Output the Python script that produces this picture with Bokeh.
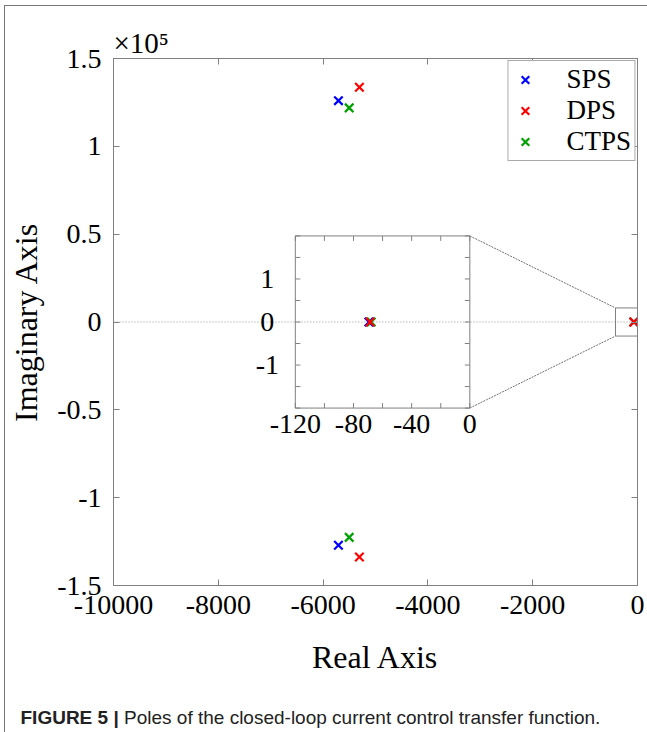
from bokeh.plotting import figure
from bokeh.layouts import column
from bokeh.models import (Range1d, LinearAxis, FixedTicker, Span, LabelSet, Title, Div,
                          Legend, LegendItem, ColumnDataSource)
from bokeh.core.properties import value
from bokeh.embed import file_html
from bokeh.resources import INLINE

# ---------------- data ----------------
series_names = ["SPS", "DPS", "CTPS"]
series_colors = ["#0000ff", "#ff0000", "#00a000"]

sps_real = [-5707, -5707, -69.4]
sps_imag = [126000, -127100, 0]
dps_real = [-5307, -5307, -68.6]
dps_imag = [133600, -133800, 0]
ctps_real = [-5502, -5502, -67.8]
ctps_imag = [121900, -122600, 0]

x_ticks = [-10000, -8000, -6000, -4000, -2000, 0]
x_tick_labels = ["-10000", "-8000", "-6000", "-4000", "-2000", "0"]
y_ticks = [-150000, -100000, -50000, 0, 50000, 100000, 150000]
y_tick_labels = ["-1.5", "-1", "-0.5", "0", "0.5", "1", "1.5"]
y_multiplier = "×10⁵"

inset_x_ticks = [-120, -100, -80, -60, -40, -20, 0]
inset_x_label_vals = [-120, -80, -40, 0]
inset_x_labels = ["-120", "-80", "-40", "0"]
inset_y_ticks = [-2, -1.5, -1, -0.5, 0, 0.5, 1, 1.5, 2]
inset_y_label_vals = [-1, 0, 1]
inset_y_labels = ["-1", "0", "1"]

zoom_box = dict(left=-420, right=0, bottom=-8000, top=8000)

caption_bold = "FIGURE 5 |"
caption_text = "Poles of the closed-loop current control transfer function."

# ---------------- layout constants ----------------
X0, X1 = -10000, 0
Y0, Y1 = -150000, 150000
IX_DOM = (-120, 0)
IY_DOM = (-2, 2)
INSET_PLACE = dict(left=-6530, right=-3200, bottom=-49000, top=49000)
SERIF = "Liberation Serif"
GRAY = "#808080"

p = figure(width=642, height=676, output_backend="svg", toolbar_location=None,
           x_range=Range1d(X0, X1), y_range=Range1d(Y0, Y1),
           min_border_left=107, min_border_right=10, min_border_top=52,
           min_border_bottom=97, x_axis_location=None, y_axis_location=None)
p.grid.visible = False
p.outline_line_color = GRAY
p.background_fill_color = "white"
p.border_fill_color = "white"

p.title = Title(text=y_multiplier, align="left", offset=0, standoff=0,
                text_font=SERIF, text_font_size="29px", text_font_style="normal",
                text_color="black")

# inset ranges computed so the inset domain maps onto its placement
ix_per = (IX_DOM[1] - IX_DOM[0]) / (INSET_PLACE["right"] - INSET_PLACE["left"])
iy_per = (IY_DOM[1] - IY_DOM[0]) / (INSET_PLACE["top"] - INSET_PLACE["bottom"])
p.extra_x_ranges = {"ix": Range1d(IX_DOM[0] - (INSET_PLACE["left"] - X0) * ix_per,
                                  IX_DOM[1] + (X1 - INSET_PLACE["right"]) * ix_per)}
p.extra_y_ranges = {"iy": Range1d(IY_DOM[0] - (INSET_PLACE["bottom"] - Y0) * iy_per,
                                  IY_DOM[1] + (Y1 - INSET_PLACE["top"]) * iy_per)}


def mk_axis(ticks, labels=None, title=None, standoff=0, label_standoff=0):
    ax = LinearAxis(ticker=FixedTicker(ticks=ticks, minor_ticks=[]))
    ax.major_tick_in = 6
    ax.major_tick_out = 0
    ax.minor_tick_in = 0
    ax.minor_tick_out = 0
    ax.axis_line_color = GRAY
    ax.major_tick_line_color = GRAY
    if labels is not None:
        ax.major_label_overrides = dict(zip(ticks, labels))
        ax.major_label_text_font = SERIF
        ax.major_label_text_font_size = "28px"
        ax.major_label_text_color = "black"
        ax.major_label_standoff = label_standoff
    else:
        ax.major_label_text_font_size = "1px"
        ax.major_label_text_color = None
        ax.major_label_standoff = 0
    if title:
        ax.axis_label = title
        ax.axis_label_text_font = SERIF
        ax.axis_label_text_font_style = "normal"
        ax.axis_label_text_font_size = "32px"
        ax.axis_label_text_color = "black"
        ax.axis_label_standoff = standoff
    return ax


p.add_layout(mk_axis(x_ticks, x_tick_labels, "Real Axis", 22, 10), "below")
p.add_layout(mk_axis(y_ticks, y_tick_labels, "Imaginary Axis", 10, 12), "left")
p.add_layout(mk_axis(x_ticks), "above")
p.add_layout(mk_axis(y_ticks), "right")

# zero line
p.add_layout(Span(location=0, dimension="width", line_color="#999999",
                  line_dash="1 2", line_width=1, level="underlay"))

# zoom box in main axes and connector lines
p.quad(left=zoom_box["left"], right=zoom_box["right"], bottom=zoom_box["bottom"],
       top=zoom_box["top"], fill_color=None, line_color=GRAY, line_width=1)


def to_main_x(xi):
    r = p.extra_x_ranges["ix"]
    return X0 + (xi - r.start) / (r.end - r.start) * (X1 - X0)


def to_main_y(yi):
    r = p.extra_y_ranges["iy"]
    return Y0 + (yi - r.start) / (r.end - r.start) * (Y1 - Y0)


p.segment(x0=[to_main_x(IX_DOM[1])] * 2, y0=[to_main_y(IY_DOM[1]), to_main_y(IY_DOM[0])],
          x1=[zoom_box["left"]] * 2, y1=[zoom_box["top"], zoom_box["bottom"]],
          line_color="#707070", line_dash="2 1", line_width=1)

# inset frame
IR = dict(x_range_name="ix", y_range_name="iy")
p.quad(left=IX_DOM[0], right=IX_DOM[1], bottom=IY_DOM[0], top=IY_DOM[1],
       fill_color="white", line_color=GRAY, line_width=1, **IR)
p.segment(x0=[IX_DOM[0]], y0=[0], x1=[IX_DOM[1]], y1=[0], line_color="#999999",
          line_dash="1 2", line_width=1, **IR)
# inset ticks (inward, ~5px)
tick_dy = 5 * (IY_DOM[1] - IY_DOM[0]) / 172.0
tick_dx = 5 * (IX_DOM[1] - IX_DOM[0]) / 175.0
nx, ny = len(inset_x_ticks), len(inset_y_ticks)
p.segment(x0=inset_x_ticks * 2, x1=inset_x_ticks * 2,
          y0=[IY_DOM[0]] * nx + [IY_DOM[1]] * nx,
          y1=[IY_DOM[0] + tick_dy] * nx + [IY_DOM[1] - tick_dy] * nx,
          line_color=GRAY, line_width=1, **IR)
p.segment(y0=inset_y_ticks * 2, y1=inset_y_ticks * 2,
          x0=[IX_DOM[0]] * ny + [IX_DOM[1]] * ny,
          x1=[IX_DOM[0] + tick_dx] * ny + [IX_DOM[1] - tick_dx] * ny,
          line_color=GRAY, line_width=1, **IR)
ixs = ColumnDataSource(dict(x=inset_x_label_vals, y=[IY_DOM[0]] * len(inset_x_label_vals),
                            t=inset_x_labels))
p.add_layout(LabelSet(x="x", y="y", text="t", source=ixs, y_offset=-7,
                      text_align="center", text_baseline="top",
                      text_font=value(SERIF), text_font_size="28px", text_color="black", **IR))
iys = ColumnDataSource(dict(x=[IX_DOM[0]] * len(inset_y_label_vals), y=inset_y_label_vals,
                            t=inset_y_labels))
p.add_layout(LabelSet(x="x", y="y", text="t", source=iys, x_offset=-28,
                      text_align="center", text_baseline="middle",
                      text_font=value(SERIF), text_font_size="28px", text_color="black", **IR))

# poles (draw order SPS, CTPS, DPS so DPS is on top)
data = {"SPS": (sps_real, sps_imag), "DPS": (dps_real, dps_imag), "CTPS": (ctps_real, ctps_imag)}
col = dict(zip(series_names, series_colors))
main_r = {}
for name in ["SPS", "CTPS", "DPS"]:
    re, im = data[name]
    main_r[name] = p.scatter(re, im, marker="x", size=12, line_width=2.2,
                             line_color=col[name])
    p.scatter(re[2:], im[2:], marker="x", size=12, line_width=2.2,
              line_color=col[name], **IR)

legend = Legend(items=[LegendItem(label=n, renderers=[main_r[n]]) for n in series_names],
                location="top_right", margin=2, padding=3, spacing=0,
                glyph_width=27, glyph_height=27, label_height=27, label_standoff=28,
                label_text_font=SERIF, label_text_font_size="27px",
                label_text_color="black", border_line_color="#555555",
                border_line_width=1, background_fill_alpha=1.0)
p.add_layout(legend)

cap = Div(text=(f'<div style="font-family:\'Liberation Sans\',Arial,sans-serif;'
                f'font-size:19px;color:#222;white-space:nowrap;'
                f'position:relative;left:10.5px;top:17px;">'
                f'<b>{caption_bold}</b> {caption_text}</div>'),
          width=642, height=50)

layout = column(p, cap, margin=(5, 0, 0, 4), spacing=0,
                styles={"border-left": "1px solid #777777",
                        "border-top": "1px solid #777777"})

open("out.html", "w").write(file_html(layout, INLINE))
